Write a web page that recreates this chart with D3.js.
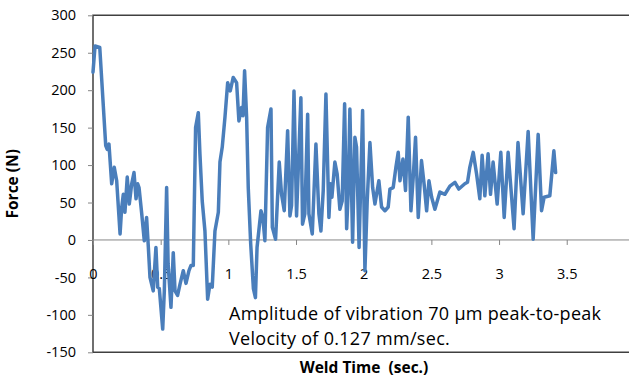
<!DOCTYPE html>
<html>
<head>
<meta charset="utf-8">
<script src="https://cdn.jsdelivr.net/npm/d3@7"></script>
<style>
  html, body { margin: 0; padding: 0; background: #fff; }
  svg { display: block; }
  text { font-family: "Open Sans", Lato, sans-serif; fill: #000; }
</style>
</head>
<body>
<svg id="chart" width="629" height="379"></svg>
<script>
// Weld force trace: time (s) and force (N)
const weldTime = [
  0.000, 0.015, 0.050, 0.094, 0.105, 0.118, 0.138, 0.157, 0.175, 0.200,
  0.212, 0.224, 0.236, 0.253, 0.268, 0.286, 0.303, 0.318, 0.330, 0.340,
  0.360, 0.379, 0.396, 0.409, 0.421, 0.445, 0.465, 0.478, 0.490, 0.515,
  0.527, 0.544, 0.555, 0.576, 0.593, 0.606, 0.625, 0.643, 0.667, 0.687,
  0.709, 0.724, 0.741, 0.758, 0.778, 0.790, 0.807, 0.827, 0.847, 0.864,
  0.881, 0.901, 0.926, 0.938, 0.955, 0.975, 0.995, 1.014, 1.036, 1.061,
  1.078, 1.098, 1.108, 1.120, 1.135, 1.147, 1.165, 1.185, 1.200, 1.212,
  1.241, 1.255, 1.270, 1.290, 1.315, 1.325, 1.349, 1.376, 1.393, 1.413,
  1.438, 1.455, 1.467, 1.485, 1.504, 1.536, 1.548, 1.565, 1.586, 1.595,
  1.620, 1.647, 1.669, 1.684, 1.701, 1.721, 1.743, 1.755, 1.765, 1.787,
  1.804, 1.824, 1.841, 1.859, 1.874, 1.886, 1.898, 1.918, 1.935, 1.947,
  1.966, 1.992, 2.009, 2.026, 2.046, 2.066, 2.083, 2.112, 2.132, 2.157,
  2.181, 2.194, 2.218, 2.238, 2.255, 2.268, 2.290, 2.309, 2.329, 2.349,
  2.366, 2.383, 2.403, 2.427, 2.446, 2.465, 2.482, 2.502, 2.526, 2.563,
  2.600, 2.637, 2.674, 2.703, 2.747, 2.767, 2.784, 2.809, 2.834, 2.858,
  2.875, 2.895, 2.919, 2.937, 2.956, 2.986, 3.013, 3.038, 3.067, 3.111,
  3.140, 3.178, 3.215, 3.252, 3.289, 3.314, 3.333, 3.375, 3.405, 3.418
];
const weldForce = [
  224, 259, 257, 126, 121, 128, 75, 97, 79, 8,
  43, 61, 37, 84, 48, 75, 90, 55, 75, 70,
  35, -1, 30, -10, -50, -68, -10, -63, -65, -119,
  -68, 70, -32, -90, -17, -68, -74, -59, -41, -58,
  -41, -34, -34, 150, 170, 115, 52, 12, -79, -59,
  -63, 12, 37, 104, 124, 164, 210, 199, 217, 210,
  159, 177, 166, 226, 164, 70, -5, -65, -77, -10,
  39, 30, -1, 150, 175, 17, 1, 104, 61, 39,
  146, 32, 46, 199, 32, 190, 21, 35, 168, 35,
  8, 128, 35, 12, 66, 195, 30, 75, 57, 104,
  88, 41, 52, 182, 15, 66, 175, -3, 137, 124,
  -10, 173, -41, 52, 130, 70, 48, 79, 44, 39,
  44, 68, 70, 97, 117, 79, 108, 66, 164, 39,
  84, 137, 30, 106, 75, 39, 79, 57, 41, 64,
  61, 72, 77, 68, 75, 77, 97, 117, 88, 55,
  113, 59, 115, 61, 104, 48, 117, 30, 117, 15,
  130, 35, 145, 1, 141, 39, 57, 59, 119, 90
];

// Axis ticks
const xTicks = [0, 0.5, 1, 1.5, 2, 2.5, 3, 3.5];
const yTicks = [-150, -100, -50, 0, 50, 100, 150, 200, 250, 300];

// Labels
const yTitle = "Force (N)";
const xTitle = "Weld Time  (sec.)";
const noteLines = [
  "Amplitude of vibration 70 \u00b5m peak-to-peak",
  "Velocity of 0.127 mm/sec."
];

const svg = d3.select("#chart");
// x runs to 4 s; the right end of the plot lies just past the page edge
const plot = { left: 93, right: 634.4, top: 15.3, bottom: 352.3 };

const x = d3.scaleLinear().domain([0, 4]).range([plot.left, plot.right]);
const y = d3.scaleLinear().domain([-150, 300]).range([plot.bottom, plot.top]);

const axisGrey = "#868686";
const frameGrey = "#404040";
const tickFont = "'DejaVu Sans', sans-serif";

// Plot-area frame (top, left, bottom)
svg.append("path")
  .attr("d", `M${plot.right + 5},${plot.top}H${plot.left}V${plot.bottom}H${plot.right + 5}`)
  .attr("fill", "none")
  .attr("stroke", frameGrey)
  .attr("stroke-width", 1.5);

// Y axis
const yAxis = svg.append("g")
  .attr("transform", `translate(${plot.left},0)`)
  .call(d3.axisLeft(y).tickValues(yTicks).tickSize(5).tickPadding(12)
    .tickFormat(d => String(d)));
yAxis.select(".domain").remove();
yAxis.selectAll(".tick line").attr("stroke", axisGrey);
yAxis.selectAll(".tick text")
  .attr("font-family", tickFont)
  .attr("font-size", 14.5)
  .attr("fill", "#000");

// X axis along the zero line
const xAxis = svg.append("g")
  .attr("transform", `translate(0,${y(0)})`)
  .call(d3.axisBottom(x).tickValues(xTicks).tickSize(5).tickPadding(24)
    .tickFormat(d => String(d)));
xAxis.select(".domain")
  .attr("stroke", axisGrey)
  .attr("d", `M${plot.left},0H${plot.right + 5}`);
xAxis.selectAll(".tick line").attr("stroke", axisGrey);
xAxis.selectAll(".tick text")
  .attr("font-family", tickFont)
  .attr("font-size", 14.5)
  .attr("fill", "#000");

// Force trace
const pts = weldTime.map((t, i) => [t, weldForce[i]]);
svg.append("path")
  .datum(pts)
  .attr("fill", "none")
  .attr("stroke", "#4a7ebb")
  .attr("stroke-width", 3.5)
  .attr("stroke-linejoin", "round")
  .attr("stroke-linecap", "round")
  .attr("d", d3.line().x(d => x(d[0])).y(d => y(d[1])));

// Annotation
const note = svg.append("text")
  .attr("x", 229)
  .attr("font-size", 18)
  .attr("letter-spacing", 0.3);
noteLines.forEach((s, i) => {
  note.append("tspan").attr("x", 229).attr("y", 320 + i * 25).text(s);
});

// Axis titles
svg.append("text")
  .attr("transform", `translate(18,${(plot.top + plot.bottom) / 2}) rotate(-90)`)
  .attr("text-anchor", "middle")
  .attr("font-weight", "bold")
  .attr("font-size", 15.5)
  .text(yTitle);

svg.append("text")
  .attr("x", 364)
  .attr("y", 373)
  .attr("text-anchor", "middle")
  .attr("font-weight", "bold")
  .attr("font-size", 15.5)
  .style("white-space", "pre")
  .text(xTitle);
</script>
</body>
</html>
